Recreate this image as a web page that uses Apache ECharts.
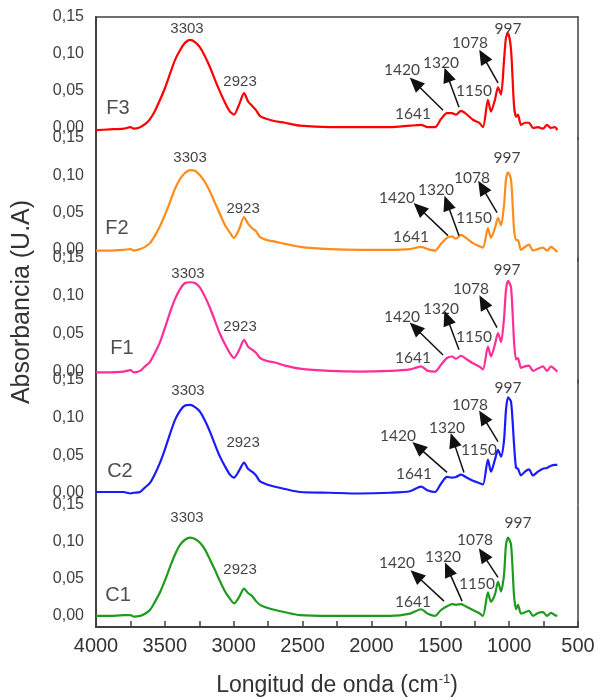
<!DOCTYPE html>
<html>
<head>
<meta charset="utf-8">
<script src="https://cdn.jsdelivr.net/npm/echarts@6/dist/echarts.min.js"></script>
<style>html,body{margin:0;padding:0;background:#fff;}#c{width:598px;height:698px;}</style>
</head>
<body>
<div id="c"></div>
<script>
// Wavenumbers (cm-1) shared by all spectra
const wavenumbers = [4000,3900,3800,3750,3725,3680,3644,3608,3572,3535,3499,3463,3426,3390,3354,3317,3281,3245,3209,3172,3136,3100,3063,3027,2998,2962,2925,2896,2867,2838,2809,2758,2700,2628,2519,2301,2083,1865,1720,1640,1590,1538,1495,1451,1415,1386,1350,1306,1263,1219,1190,1154,1132,1103,1081,1059,1037,1023,1008,986,965,950,936,914,885,856,827,791,755,725,696,667,650];

const F3 = [-0.003,-0.002,-0.001,0.001,-0.001,0.001,0.005,0.012,0.023,0.038,0.054,0.073,0.092,0.105,0.115,0.119,0.116,0.109,0.097,0.082,0.065,0.049,0.034,0.022,0.018,0.031,0.047,0.036,0.030,0.024,0.016,0.012,0.009,0.007,0.003,0.001,0.001,0.001,0.003,0.004,0.001,0.001,0.012,0.020,0.020,0.018,0.023,0.018,0.011,0.007,0.001,0.038,0.022,0.038,0.055,0.045,0.092,0.122,0.128,0.105,0.031,0.015,0.018,0.004,0.007,0.007,0.000,0.001,-0.001,0.004,0.000,0.001,-0.003];
const F2 = [-0.001,-0.001,0.000,0.001,-0.001,0.001,0.004,0.009,0.019,0.032,0.047,0.064,0.082,0.095,0.103,0.107,0.106,0.100,0.091,0.078,0.063,0.048,0.033,0.023,0.016,0.027,0.044,0.035,0.029,0.025,0.017,0.013,0.011,0.008,0.004,0.001,0.000,0.000,0.001,0.004,0.001,-0.001,0.008,0.016,0.018,0.015,0.020,0.015,0.009,0.005,0.003,0.029,0.016,0.029,0.043,0.033,0.060,0.094,0.104,0.094,0.029,0.013,0.013,0.000,0.004,0.007,-0.001,0.001,0.003,-0.001,0.004,0.000,-0.003];
const F1 = [-0.001,-0.001,0.000,0.002,-0.001,0.001,0.007,0.013,0.025,0.039,0.058,0.078,0.096,0.109,0.117,0.118,0.117,0.111,0.099,0.084,0.067,0.050,0.036,0.024,0.018,0.028,0.042,0.033,0.029,0.025,0.018,0.014,0.012,0.008,0.004,0.001,0.000,0.001,0.003,0.007,0.001,0.000,0.009,0.018,0.020,0.017,0.021,0.016,0.011,0.007,0.003,0.033,0.020,0.036,0.051,0.039,0.071,0.108,0.120,0.111,0.042,0.016,0.018,0.005,0.007,0.008,0.001,0.004,0.007,0.001,0.007,0.003,0.000];
const C2 = [0.001,0.001,0.001,-0.001,0.000,0.001,0.007,0.013,0.025,0.040,0.058,0.078,0.097,0.109,0.116,0.117,0.114,0.108,0.096,0.081,0.064,0.048,0.035,0.024,0.020,0.029,0.040,0.032,0.028,0.023,0.015,0.011,0.008,0.005,0.001,0.000,-0.001,0.000,0.002,0.008,0.003,0.001,0.012,0.021,0.020,0.021,0.024,0.020,0.016,0.013,0.011,0.044,0.028,0.044,0.057,0.048,0.070,0.110,0.127,0.121,0.066,0.033,0.032,0.023,0.028,0.031,0.023,0.028,0.032,0.033,0.036,0.037,0.037];
const C1 = [0.000,0.000,0.001,0.001,-0.001,0.000,0.003,0.008,0.019,0.032,0.048,0.066,0.083,0.096,0.103,0.106,0.104,0.099,0.090,0.076,0.062,0.047,0.033,0.023,0.017,0.025,0.037,0.031,0.027,0.020,0.015,0.011,0.008,0.005,0.001,0.000,0.000,0.000,0.003,0.009,0.003,0.000,0.008,0.013,0.016,0.015,0.016,0.012,0.008,0.004,0.000,0.032,0.019,0.029,0.046,0.033,0.056,0.096,0.106,0.096,0.029,0.009,0.015,0.003,0.005,0.007,0.000,0.004,0.005,0.000,0.004,0.001,0.000];

const panelNames = ['F3','F2','F1','C2','C1'];
const spectra = [F3, F2, F1, C2, C1];
const colors = ['#ff0000','#ff8c1a','#ff2d96','#1a1aff','#1e9a1e'];
const yTickValues = [0, 0.05, 0.10, 0.15];
const xTickLabels = [4000,3500,3000,2500,2000,1500,1000,500];

// Panel name positions [wavenumber, absorbance]
const panelLabelPos = [[3840,0.026],[3848,0.028],[3811,0.030],[3826,0.028],[3840,0.027]];

// Peak labels: [wavenumber, absorbance, text]
const F3Labels = [[3339,0.134,'3303'],[2954,0.062,'2923'],[1698,0.019,'1641'],[1778,0.078,'1420'],[1495,0.088,'1320'],[1255,0.050,'1150'],[1284,0.115,'1078'],[1008,0.134,'997']];
const F2Labels = [[3317,0.124,'3303'],[2932,0.055,'2923'],[1713,0.017,'1641'],[1814,0.070,'1420'],[1531,0.080,'1320'],[1255,0.043,'1150'],[1270,0.096,'1078'],[1015,0.123,'997']];
const F1Labels = [[3332,0.129,'3303'],[2954,0.059,'2923'],[1698,0.018,'1641'],[1778,0.072,'1420'],[1495,0.083,'1320'],[1255,0.046,'1150'],[1277,0.109,'1078'],[1015,0.134,'997']];
const C2Labels = [[3332,0.135,'3303'],[2932,0.066,'2923'],[1691,0.025,'1641'],[1807,0.076,'1420'],[1451,0.086,'1320'],[1219,0.057,'1150'],[1284,0.117,'1078'],[1008,0.139,'997']];
const C1Labels = [[3339,0.133,'3303'],[2954,0.062,'2923'],[1698,0.019,'1641'],[1814,0.072,'1420'],[1480,0.079,'1320'],[1233,0.043,'1150'],[1248,0.103,'1078'],[935,0.125,'997']];
const peakLabels = [F3Labels, F2Labels, F1Labels, C2Labels, C1Labels];

// Arrows: [from wavenumber, from abs, to wavenumber, to abs]
const F3Arrows = [[1480,0.024,1683,0.061],[1364,0.028,1451,0.072],[1081,0.061,1190,0.097]];
const F2Arrows = [[1444,0.019,1654,0.056],[1364,0.019,1451,0.063],[1088,0.050,1197,0.084]];
const F1Arrows = [[1480,0.022,1683,0.058],[1364,0.029,1451,0.071],[1088,0.058,1190,0.092]];
const C2Arrows = [[1451,0.027,1662,0.061],[1328,0.027,1407,0.070],[1081,0.068,1190,0.101]];
const C1Arrows = [[1473,0.020,1676,0.055],[1342,0.020,1444,0.063],[1081,0.052,1190,0.083]];
const arrows = [F3Arrows, F2Arrows, F1Arrows, C2Arrows, C1Arrows];

// Layout
const gridBoxes = [[17,122],[138,123],[258,125],[380,124],[505,123]];
const axisColor = '#404040';
const FONT = 'Liberation Sans, Arial, sans-serif';

const grids = gridBoxes.map(b => ({left: 96, width: 482, top: b[0], height: b[1]}));

const xAxes = panelNames.map((n, i) => ({
  type: 'value', gridIndex: i, min: 500, max: 4000, interval: 500, inverse: true,
  show: i === 4,
  axisLine: {show: i === 4, onZero: false, lineStyle: {color: axisColor, width: 2}},
  axisTick: {show: true, inside: true, length: 6, lineStyle: {color: axisColor, width: 1.5}},
  minorTick: {show: true, splitNumber: 2, length: 6, lineStyle: {color: axisColor, width: 1.5}},
  axisLabel: {show: true, fontSize: 20, color: '#333', fontFamily: FONT, margin: 9,
    formatter: v => xTickLabels.indexOf(v) >= 0 ? String(v) : ''},
  splitLine: {show: false},
  name: i === 4 ? 'Longitud de onda (cm{sup|-1})' : '',
  nameLocation: 'middle', nameGap: 46,
  nameTextStyle: {fontSize: 23, color: '#333', fontFamily: FONT,
    rich: {sup: {fontSize: 13, color: '#333', fontFamily: FONT, verticalAlign: 'top', padding: [0, 0, 12, 0]}}}
}));
// top border of first panel
xAxes.push({type: 'value', gridIndex: 0, position: 'top', min: 500, max: 4000, inverse: true,
  axisLine: {show: true, onZero: false, lineStyle: {color: axisColor, width: 1.5}},
  axisTick: {show: false}, axisLabel: {show: false}, splitLine: {show: false}});

const yAxes = panelNames.map((n, i) => ({
  type: 'value', gridIndex: i, min: -0.015, max: 0.15,
  axisLine: {show: true, onZero: false, lineStyle: {color: axisColor, width: 2}},
  axisTick: {show: false},
  axisLabel: {show: true, customValues: yTickValues, fontSize: 16, color: '#404040', fontFamily: FONT, margin: 12,
    formatter: v => v.toFixed(2).replace('.', ',')},
  splitLine: {show: false}
}));
panelNames.forEach((n, i) => yAxes.push({
  type: 'value', gridIndex: i, position: 'right', min: -0.015, max: 0.15,
  axisLine: {show: true, onZero: false, lineStyle: {color: axisColor, width: 1.5}},
  axisTick: {show: false}, axisLabel: {show: false}, splitLine: {show: false}
}));

const series = [];
panelNames.forEach((n, i) => {
  series.push({
    type: 'line', name: n, xAxisIndex: i, yAxisIndex: i,
    data: wavenumbers.map((w, j) => [w, spectra[i][j]]),
    smooth: 0.25, showSymbol: false, symbol: 'none',
    lineStyle: {color: colors[i], width: 2.2}, itemStyle: {color: colors[i]},
    silent: true, animation: false
  });
  const labelData = peakLabels[i].map(p => ({
    value: [p[0], p[1]], name: p[2],
    label: {fontSize: ['3303','2923'].indexOf(p[2]) >= 0 ? 15 : 15.5,
      fontFamily: ['3303','2923'].indexOf(p[2]) >= 0 ? FONT : 'Lato, Liberation Sans, sans-serif'}
  }));
  labelData.push({value: panelLabelPos[i], name: n, label: {fontSize: 20, fontFamily: FONT, color: '#222'}});
  series.push({
    type: 'scatter', xAxisIndex: i, yAxisIndex: i, symbolSize: 0, silent: true, animation: false,
    data: labelData,
    label: {show: true, position: 'inside', formatter: '{b}', color: '#111'},
    markLine: {
      silent: true, animation: false,
      symbol: ['none', 'triangle'], symbolSize: [13, 15],
      label: {show: false},
      lineStyle: {color: '#111', width: 1.5, type: 'solid'},
      emphasis: {disabled: true},
      data: arrows[i].map(a => [{coord: [a[0], a[1]]}, {coord: [a[2], a[3]]}])
    }
  });
});

const chart = echarts.init(document.getElementById('c'), null, {renderer: 'canvas'});
chart.setOption({
  animation: false,
  backgroundColor: '#fff',
  grid: grids,
  xAxis: xAxes,
  yAxis: yAxes,
  series: series,
  graphic: [{
    type: 'text', rotation: Math.PI / 2,
    x: 22, y: 302,
    style: {text: 'Absorbancia (U.A)', fontSize: 25, fill: '#333', fontFamily: FONT, align: 'center', verticalAlign: 'middle'}
  }]
});
</script>
</body>
</html>
